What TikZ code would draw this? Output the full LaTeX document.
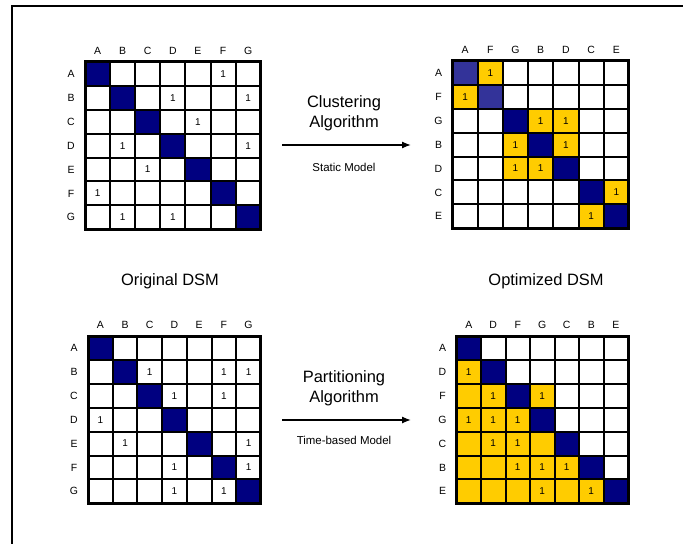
\documentclass[tikz,border=0pt]{standalone}
\usepackage{fontspec}
\setmainfont{Liberation Sans}
\usetikzlibrary{arrows.meta}

\definecolor{dsmnavy}{HTML}{000080}
\definecolor{dsmblue}{HTML}{333399}
\definecolor{dsmyellow}{HTML}{FFCC00}

\tikzset{
  cell/.style={draw=black,line width=2bp,inner sep=0pt,outer sep=0pt,anchor=north west,minimum height=23.9bp},
  hdr/.style={font=\fontsize{10.5}{12}\selectfont,inner sep=0pt},
  one/.style={font=\fontsize{10}{12}\selectfont,inner sep=0pt},
  yellowcell/.style={draw=black,line width=2bp,fill=dsmyellow},
  bluecell/.style={draw=black,line width=2bp,fill=dsmblue},
  title/.style={font=\fontsize{16.5}{20}\selectfont,align=center},
  note/.style={font=\fontsize{11.5}{13}\selectfont},
}

% #1 prefix, #2 left, #3 top, #4 cell width, #5 element order
\newcommand{\dsmgrid}[5]{%
  \foreach \dsmlet [count=\i] in {#5} {
    \node[hdr] (#1-col-\i) at ({#2+(\i-0.5)*#4},{#3-11}) {\dsmlet};
    \node[hdr] (#1-row-\i) at ({#2-14},{#3+(\i-0.5)*23.9}) {\dsmlet};
  }
  \foreach \ri in {1,...,7} {
    \foreach \ci in {1,...,7} {
      \ifnum\ri=\ci \def\cfill{dsmnavy}\else\def\cfill{white}\fi
      \node[cell,fill=\cfill,minimum width=#4bp] (#1-\ri-\ci) at ({#2+(\ci-1)*#4},{#3+(\ri-1)*23.9}) {};
    }
  }
}
\newcommand{\dsmframe}[1]{%
  \draw[line width=3bp] (#1-1-1.north west) rectangle (#1-7-7.south east);
}

\begin{document}
\begin{tikzpicture}[x=1bp,y=-1bp,>={Latex[length=9bp,width=7bp]}]
\useasboundingbox[fill=white] (0,0) rectangle (683,544);
\draw[line width=2bp] (12,544) -- (12,6) -- (683,6);

%% original DSM, top
\dsmgrid{tl}{85}{62}{25.1}{A,B,C,D,E,F,G}
\dsmframe{tl}
\foreach \ri/\ci in {1/6,2/4,2/7,3/5,4/2,4/7,5/3,6/1,7/2,7/4}
  \node[one] (tl-one-\ri-\ci) at (tl-\ri-\ci) {1};

%% clustered DSM
\dsmgrid{tr}{452.5}{61}{25.2}{A,F,G,B,D,C,E}
\foreach \ri/\ci in {1/1,2/2}
  \path[bluecell] (tr-\ri-\ci.north west) rectangle (tr-\ri-\ci.south east);
\foreach \ri/\ci in {1/2,2/1,3/4,3/5,4/3,4/5,5/3,5/4,6/7,7/6} {
  \path[yellowcell] (tr-\ri-\ci.north west) rectangle (tr-\ri-\ci.south east);
  \node[one] (tr-one-\ri-\ci) at (tr-\ri-\ci) {1};
}
\dsmframe{tr}

%% original DSM, bottom
\dsmgrid{bl}{88}{336}{24.7}{A,B,C,D,E,F,G}
\dsmframe{bl}
\foreach \ri/\ci in {2/3,2/6,2/7,3/4,3/6,4/1,5/2,5/7,6/4,6/7,7/4,7/6}
  \node[one] (bl-one-\ri-\ci) at (bl-\ri-\ci) {1};

%% partitioned DSM
\dsmgrid{br}{456.5}{336}{24.5}{A,D,F,G,C,B,E}
\foreach \ri in {2,...,7} {
  \pgfmathtruncatemacro\lastc{\ri-1}
  \foreach \ci in {1,...,\lastc}
    \path[yellowcell] (br-\ri-\ci.north west) rectangle (br-\ri-\ci.south east);
}
\path[yellowcell] (br-3-4.north west) rectangle (br-3-4.south east);
\dsmframe{br}
\foreach \ri/\ci in {2/1,3/2,3/4,4/1,4/2,4/3,5/2,5/3,6/3,6/4,6/5,7/4,7/6}
  \node[one] (br-one-\ri-\ci) at (br-\ri-\ci) {1};

%% captions
\node[title] (orig) at (170,281) {Original DSM};
\node[title] (opt) at (546,281) {Optimized DSM};

%% algorithms
\node[title] (clu) at (344,113) {Clustering\\Algorithm};
\coordinate (clu-start) at (282,145);
\coordinate (clu-end) at (411,145);
\draw[->,line width=1.3bp] (clu-start) -- (clu-end);
\node[note] (clu-model) at (344,167) {Static Model};

\node[title] (par) at (344,388) {Partitioning\\Algorithm};
\coordinate (par-start) at (282,420);
\coordinate (par-end) at (411,420);
\draw[->,line width=1.3bp] (par-start) -- (par-end);
\node[note] (par-model) at (344,440) {Time-based Model};
\end{tikzpicture}
\end{document}
